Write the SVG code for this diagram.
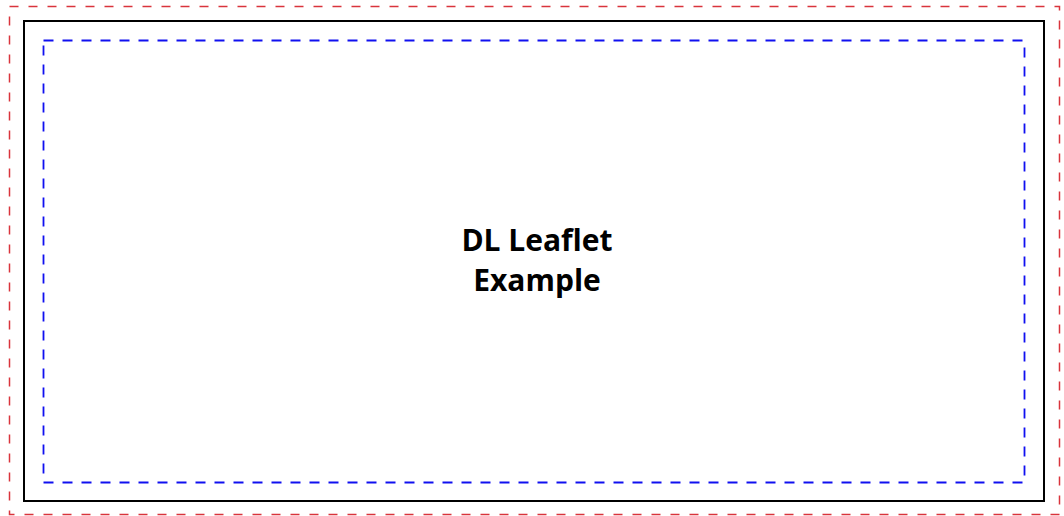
<svg xmlns="http://www.w3.org/2000/svg" width="1064" height="516" viewBox="0 0 1064 516">
<style>
.bleed{fill:none;stroke:#d9343c;stroke-width:1.5;stroke-dasharray:9 10}
.trim{fill:none;stroke:#000;stroke-width:2}
.safe{fill:none;stroke:#1010f0;stroke-width:1.8;stroke-dasharray:10 9}
.t{font-family:"Open Sans","Noto Sans",sans-serif;font-weight:bold;font-size:30px;fill:#000;text-anchor:middle}
</style>
<rect width="1064" height="516" fill="#fff"/>
<g id="bleed"><rect class="bleed" x="9.5" y="6.5" width="1050" height="508"/></g>
<g id="trim"><rect class="trim" x="24" y="21" width="1020" height="480"/></g>
<g id="safe"><rect class="safe" x="43.5" y="40.5" width="981" height="442"/></g>
<g id="label">
<text class="t" x="537" y="251">DL Leaflet</text>
<text class="t" x="537" y="291">Example</text>
</g>
</svg>
